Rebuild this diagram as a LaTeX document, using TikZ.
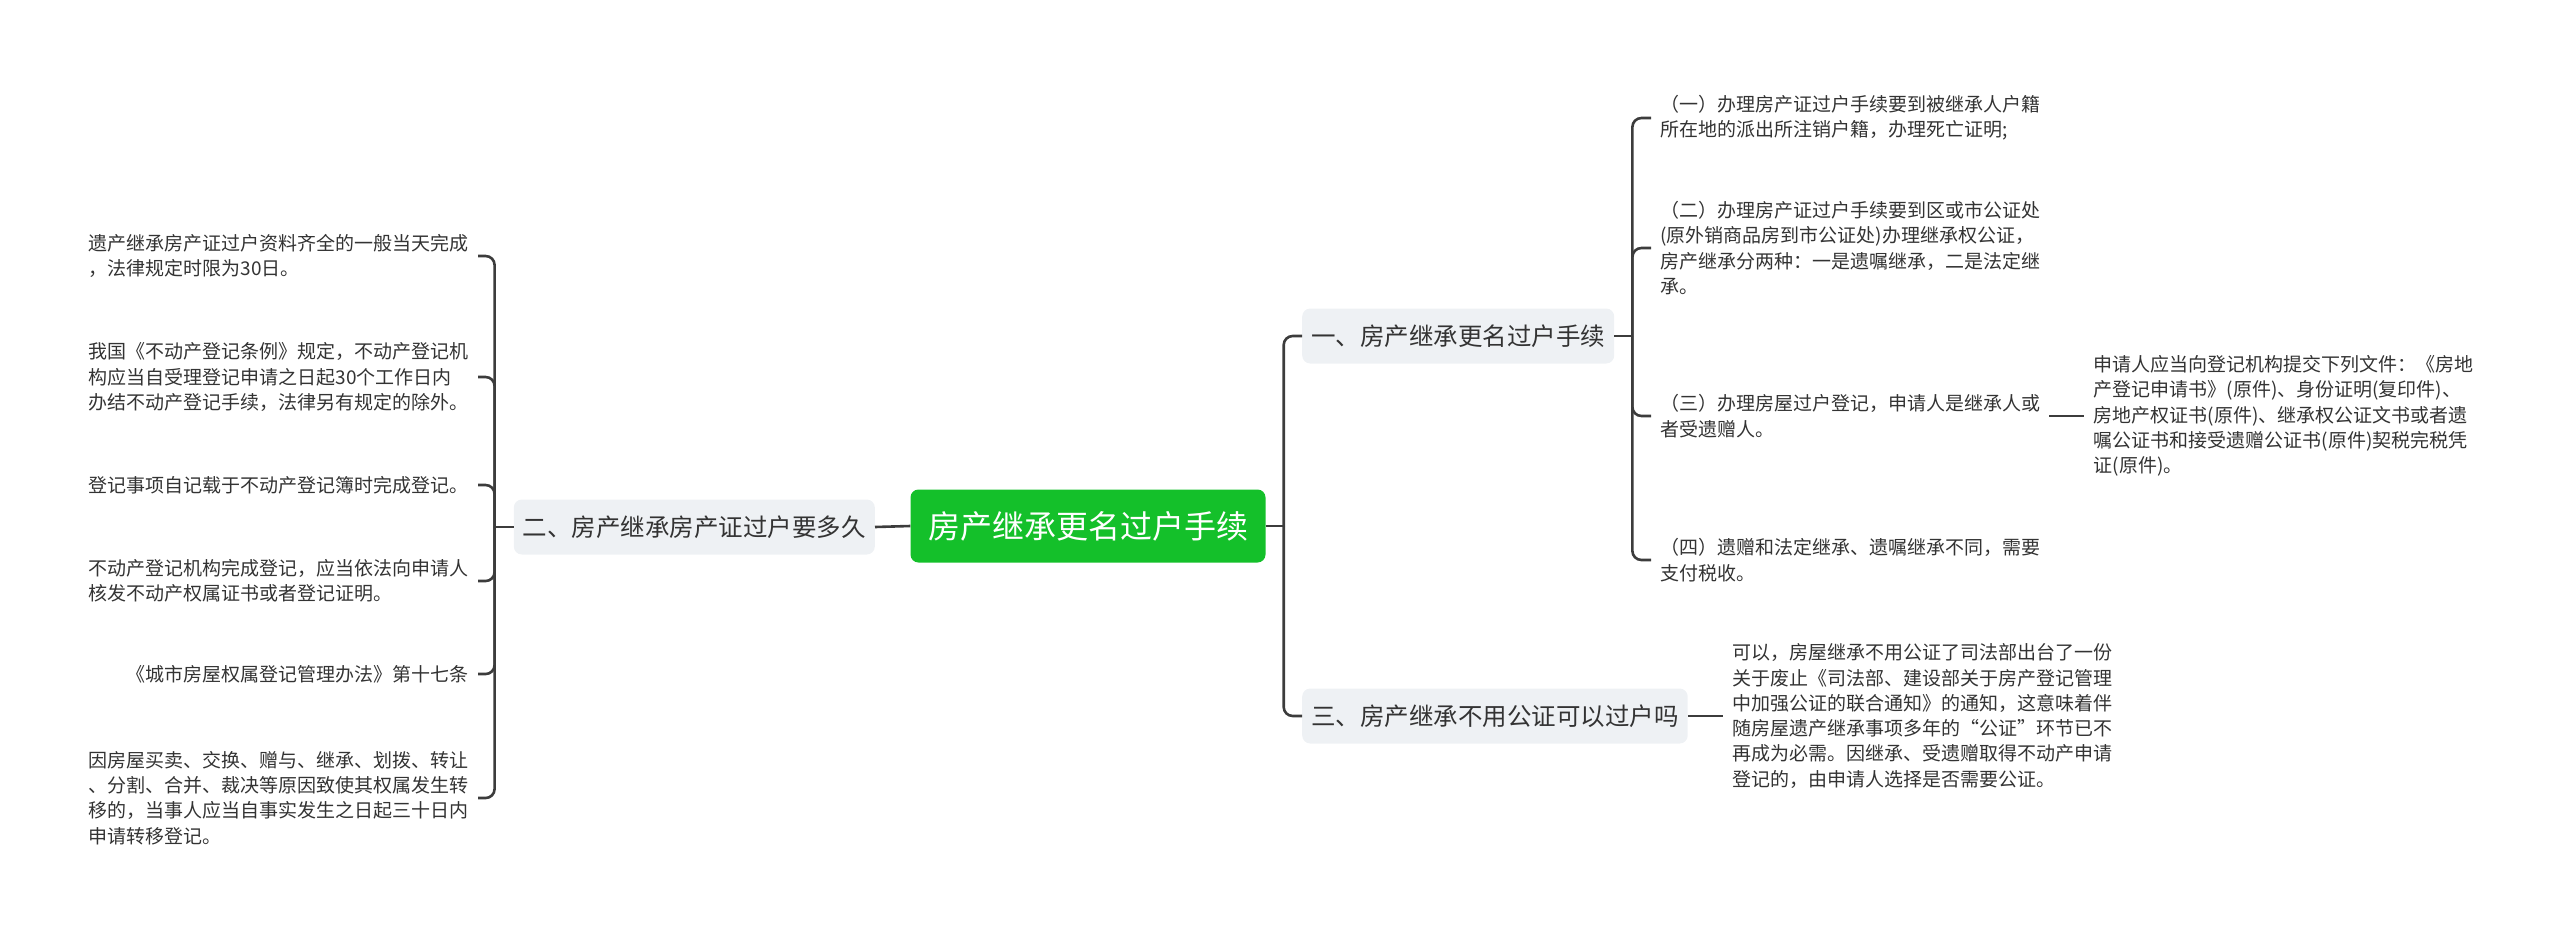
\documentclass[tikz,border=0pt]{standalone}
\usepackage{fontspec}
\setmainfont{Noto Sans CJK SC}
\usepackage{xcolor}
\usepackage{tikz}
\usetikzlibrary{arrows.meta, positioning}
\definecolor{rootgreen}{HTML}{14C02A}
\definecolor{branchgray}{HTML}{EEF1F4}
\definecolor{linegray}{HTML}{3C3C3C}
\definecolor{textgray}{HTML}{333333}

\begin{document}
\begin{tikzpicture}[x=1pt, y=-1pt,
  root/.style={fill=rootgreen, text=white, rounded corners=8pt, minimum width=355pt, minimum height=73pt, font=\fontsize{32}{38}\selectfont},
  branch/.style={fill=branchgray, text=textgray, rounded corners=8pt, minimum height=55pt, inner xsep=9pt, font=\fontsize{24.5}{30}\selectfont},
  leaf/.style={align=left, text=textgray, inner xsep=9pt, inner ysep=4pt, font=\fontsize{19}{25.3}\selectfont},
  link/.style={draw=linegray, line width=2.6pt, rounded corners=9pt}]
\useasboundingbox (0,0) rectangle (2560,935);

\node[root] (root) at (1088,526) {房产继承更名过户手续};
\node[branch, anchor=east] (l) at (875,527) {二、房产继承房产证过户要多久};
\node[branch, anchor=west] (r1) at (1302,336) {一、房产继承更名过户手续};
\node[branch, anchor=west] (r3) at (1302,716) {三、房产继承不用公证可以过户吗};

% left leaves
\node[leaf, anchor=east] (l1) at (478,256) {遗产继承房产证过户资料齐全的一般当天完成\\，法律规定时限为30日。};
\node[leaf, anchor=east] (l2) at (478,377) {我国《不动产登记条例》规定，不动产登记机\\构应当自受理登记申请之日起30个工作日内\\办结不动产登记手续，法律另有规定的除外。};
\node[leaf, anchor=east] (l3) at (478,485) {登记事项自记载于不动产登记簿时完成登记。};
\node[leaf, anchor=east] (l4) at (478,581) {不动产登记机构完成登记，应当依法向申请人\\核发不动产权属证书或者登记证明。};
\node[leaf, anchor=east] (l5) at (478,674) {《城市房屋权属登记管理办法》第十七条};
\node[leaf, anchor=east] (l6) at (478,798) {因房屋买卖、交换、赠与、继承、划拨、转让\\、分割、合并、裁决等原因致使其权属发生转\\移的，当事人应当自事实发生之日起三十日内\\申请转移登记。};

% right leaves
\node[leaf, anchor=west] (r1a) at (1651,118) {（一）办理房产证过户手续要到被继承人户籍\\所在地的派出所注销户籍，办理死亡证明;};
\node[leaf, anchor=west] (r1b) at (1651,248) {（二）办理房产证过户手续要到区或市公证处\\(原外销商品房到市公证处)办理继承权公证，\\房产继承分两种：一是遗嘱继承，二是法定继\\承。};
\node[leaf, anchor=west] (r1c) at (1651,416) {（三）办理房屋过户登记，申请人是继承人或\\者受遗赠人。};
\node[leaf, anchor=west] (r1d) at (1651,560) {（四）遗赠和法定继承、遗嘱继承不同，需要\\支付税收。};
\node[leaf, right=35pt of r1c] (r1c1) {申请人应当向登记机构提交下列文件：《房地\\产登记申请书》(原件)、身份证明(复印件)、\\房地产权证书(原件)、继承权公证文书或者遗\\嘱公证书和接受遗赠公证书(原件)契税完税凭\\证(原件)。};
\node[leaf, right=35pt of r3] (r3a) {可以，房屋继承不用公证了司法部出台了一份\\关于废止《司法部、建设部关于房产登记管理\\中加强公证的联合通知》的通知，这意味着伴\\随房屋遗产继承事项多年的“公证”环节已不\\再成为必需。因继承、受遗赠取得不动产申请\\登记的，由申请人选择是否需要公证。};

% connectors
\coordinate (rt) at ([xshift=18pt]root.east);
\draw[link] (root.east) -- (rt);
\draw[link] (rt) |- (r1.west);
\draw[link] (rt) |- (r3.west);
\draw[link] (root.west) -- (l.east);

\coordinate (lt) at ([xshift=-19pt]l.west);
\draw[link] (l.west) -- (lt);
\foreach \n in {l1,l2,l3,l4,l5,l6}
  \draw[link] (lt) |- (\n.east);

\coordinate (r1t) at ([xshift=18pt]r1.east);
\draw[link] (r1.east) -- (r1t);
\foreach \n in {r1a,r1b,r1c,r1d}
  \draw[link] (r1t) |- (\n.west);

\draw[link] (r1c.east) -- (r1c1.west);
\draw[link] (r3.east) -- (r3a.west);
\end{tikzpicture}
\end{document}
